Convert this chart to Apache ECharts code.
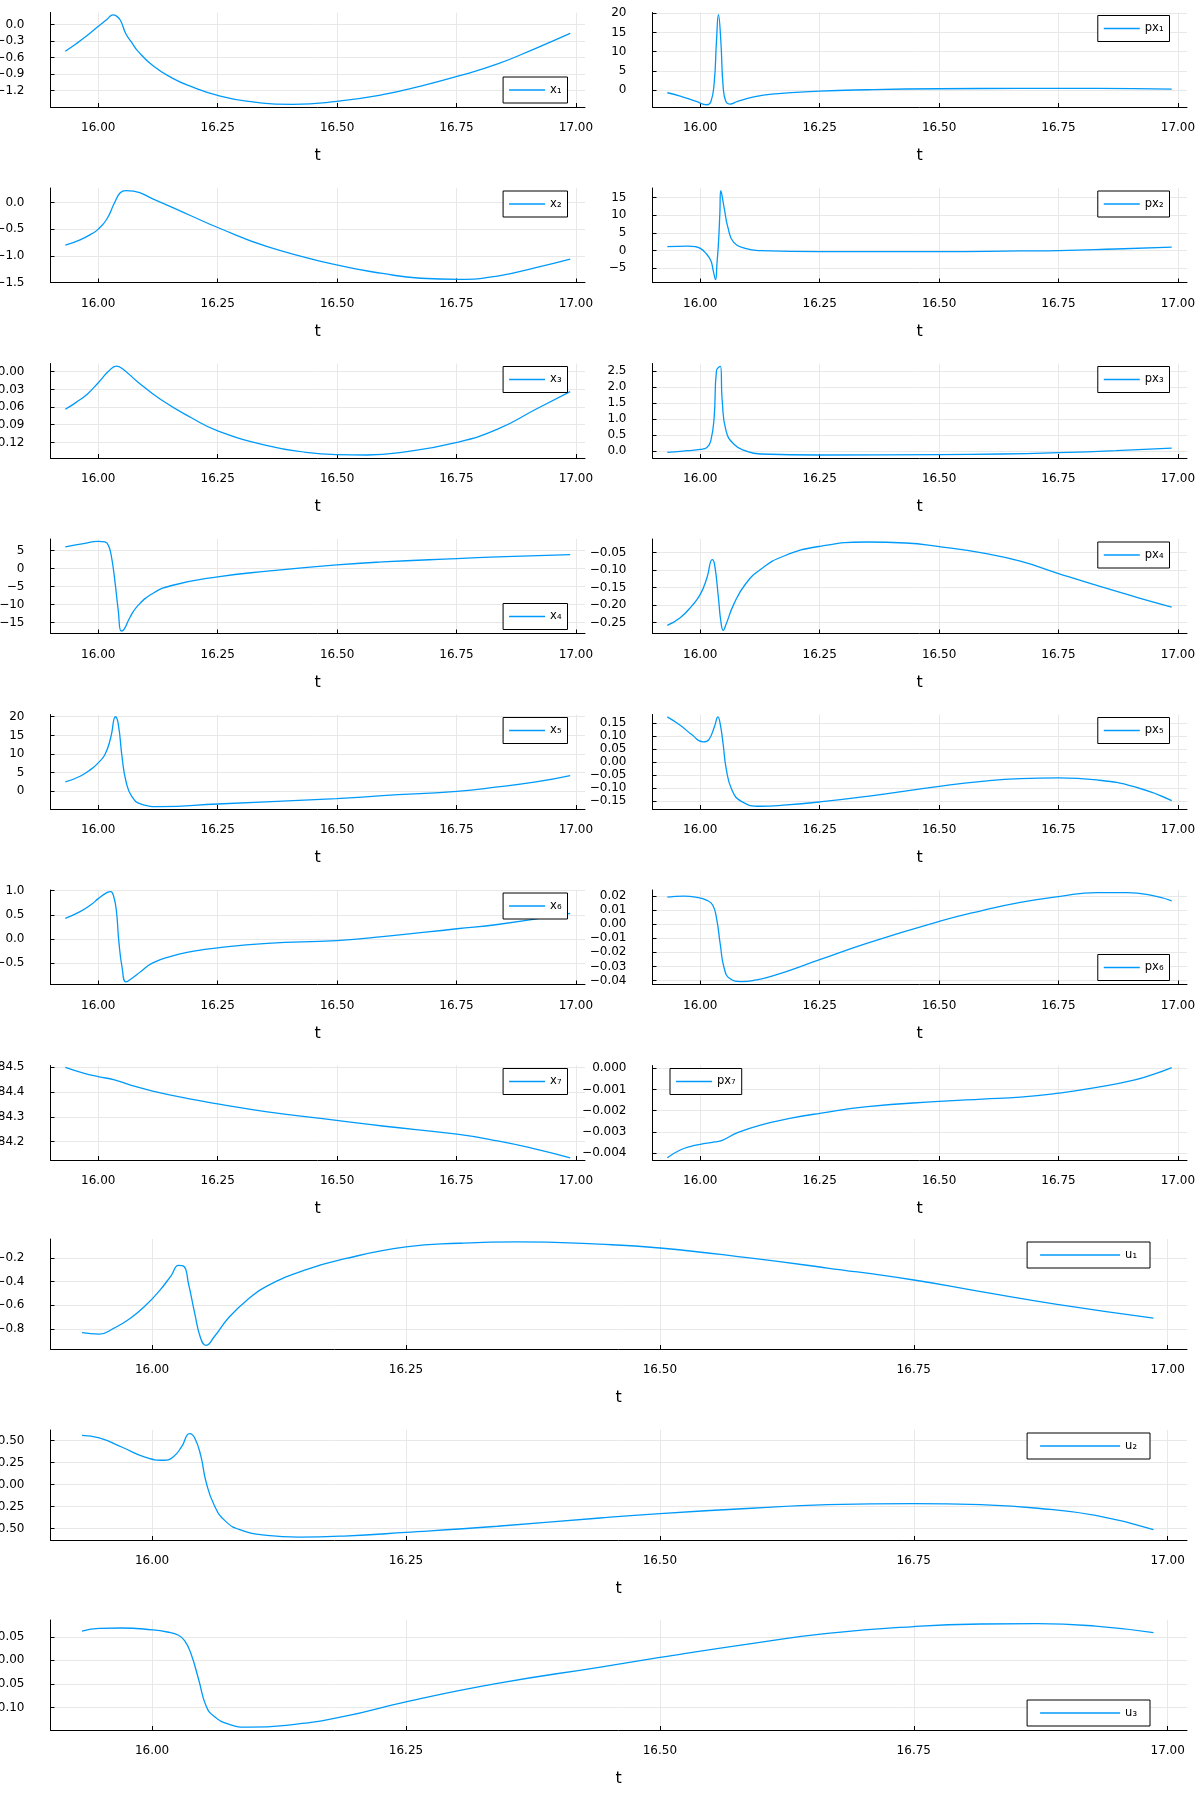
<!DOCTYPE html>
<html><head><meta charset="utf-8">
<script src="https://cdn.jsdelivr.net/npm/echarts@6/dist/echarts.min.js"></script>
<style>html,body{margin:0;padding:0;background:#fff}#c{width:1199px;height:1799px}</style>
</head><body><div id="c"></div>
<script>
// ---- data: [t, value] samples ----
const x1 = [[15.931,-0.488],[15.953,-0.356],[15.978,-0.193],[16.0,-0.035],[16.018,0.09],[16.031,0.175],[16.036,0.165],[16.046,0.08],[16.058,-0.175],[16.07,-0.326],[16.082,-0.476],[16.114,-0.748],[16.154,-0.971],[16.194,-1.128],[16.25,-1.29],[16.314,-1.399],[16.407,-1.453],[16.499,-1.399],[16.595,-1.278],[16.675,-1.122],[16.751,-0.947],[16.836,-0.718],[16.916,-0.434],[16.988,-0.163]];
const px1 = [[15.931,-0.69],[15.958,-1.56],[15.99,-2.86],[16.014,-3.81],[16.022,-3.12],[16.029,1.65],[16.034,12.9],[16.038,19.65],[16.043,12.9],[16.048,0.78],[16.054,-3.12],[16.062,-3.64],[16.078,-2.94],[16.11,-1.82],[16.15,-1.04],[16.25,-0.26],[16.35,0.09],[16.5,0.35],[16.67,0.43],[16.83,0.43],[16.987,0.26]];
const x2 = [[15.931,-0.80],[15.962,-0.70],[15.986,-0.59],[16.0,-0.50],[16.018,-0.31],[16.034,-0.006],[16.046,0.18],[16.058,0.22],[16.074,0.21],[16.114,0.068],[16.194,-0.25],[16.25,-0.47],[16.354,-0.83],[16.499,-1.17],[16.595,-1.33],[16.675,-1.42],[16.755,-1.44],[16.836,-1.38],[16.916,-1.22],[16.988,-1.06]];
const px2 = [[15.931,1.12],[15.974,1.30],[15.99,1.12],[16.0,0.65],[16.01,-0.47],[16.022,-2.79],[16.027,-5.6],[16.032,-8.19],[16.035,-3.5],[16.038,1.86],[16.041,10.5],[16.043,16.93],[16.05,12.09],[16.058,6.51],[16.07,2.33],[16.094,0.65],[16.126,0.0],[16.25,-0.28],[16.5,-0.28],[16.67,-0.09],[16.75,0.0],[16.87,0.47],[16.987,1.02]];
const x3 = [[15.931,-0.0637],[15.953,-0.0524],[15.978,-0.0372],[16.0,-0.0186],[16.022,0.0011],[16.038,0.0096],[16.05,0.0056],[16.082,-0.0169],[16.13,-0.0468],[16.194,-0.0777],[16.25,-0.1003],[16.354,-0.1256],[16.435,-0.1369],[16.499,-0.1408],[16.563,-0.1414],[16.635,-0.1369],[16.751,-0.12],[16.836,-0.0975],[16.916,-0.0637],[16.988,-0.0338]];
const px3 = [[15.931,-0.031],[15.974,0.021],[16.0,0.062],[16.014,0.124],[16.022,0.33],[16.029,1.05],[16.034,2.52],[16.042,2.65],[16.046,1.57],[16.054,0.64],[16.07,0.23],[16.094,0.021],[16.126,-0.083],[16.25,-0.114],[16.5,-0.103],[16.63,-0.083],[16.75,-0.041],[16.87,0.021],[16.987,0.103]];
const x4 = [[15.931,6.02],[15.969,6.94],[16.0,7.59],[16.014,7.41],[16.022,6.2],[16.028,2.96],[16.034,-2.59],[16.042,-11.85],[16.048,-17.4],[16.054,-16.94],[16.066,-13.7],[16.082,-10.46],[16.114,-6.94],[16.154,-4.72],[16.25,-2.31],[16.354,-0.74],[16.499,1.02],[16.595,1.85],[16.751,2.78],[16.836,3.24],[16.988,3.89]];
const px4 = [[15.931,-0.2576],[15.958,-0.2358],[15.982,-0.2026],[16.0,-0.1694],[16.014,-0.122],[16.025,-0.0699],[16.03,-0.0841],[16.038,-0.1789],[16.043,-0.2453],[16.048,-0.2718],[16.054,-0.2548],[16.07,-0.1979],[16.094,-0.141],[16.126,-0.0983],[16.174,-0.0604],[16.25,-0.032],[16.35,-0.0197],[16.43,-0.0225],[16.5,-0.0329],[16.59,-0.0509],[16.67,-0.0746],[16.75,-0.1097],[16.83,-0.1438],[16.91,-0.1761],[16.987,-0.2055]];
const x5 = [[15.931,2.51],[15.962,4.04],[15.986,6.01],[16.0,7.62],[16.014,9.87],[16.026,14.35],[16.036,20.0],[16.042,17.94],[16.05,8.97],[16.058,2.69],[16.07,-1.35],[16.09,-3.41],[16.13,-4.13],[16.25,-3.41],[16.499,-1.97],[16.595,-1.17],[16.751,0.0],[16.836,1.17],[16.916,2.51],[16.988,4.22]];
const px5 = [[15.931,0.174],[15.958,0.1416],[15.982,0.1056],[16.006,0.0773],[16.018,0.0863],[16.03,0.1378],[16.037,0.174],[16.042,0.144],[16.048,0.067],[16.054,-0.023],[16.066,-0.107],[16.086,-0.152],[16.126,-0.171],[16.174,-0.167],[16.25,-0.1545],[16.35,-0.1326],[16.5,-0.094],[16.59,-0.0747],[16.67,-0.0644],[16.75,-0.0618],[16.83,-0.0695],[16.91,-0.0966],[16.987,-0.1494]];
const x6 = [[15.931,0.427],[15.962,0.564],[15.986,0.716],[16.0,0.833],[16.018,0.956],[16.026,0.977],[16.032,0.888],[16.038,0.578],[16.043,-0.041],[16.05,-0.592],[16.058,-0.881],[16.07,-0.812],[16.09,-0.661],[16.114,-0.49],[16.154,-0.35],[16.194,-0.26],[16.25,-0.18],[16.354,-0.09],[16.499,-0.03],[16.595,0.05],[16.751,0.213],[16.836,0.30],[16.988,0.53]];
const px6 = [[15.931,0.0191],[15.966,0.0198],[15.99,0.0191],[16.014,0.0169],[16.026,0.0136],[16.034,0.0042],[16.042,-0.0146],[16.05,-0.0311],[16.062,-0.0386],[16.086,-0.0407],[16.11,-0.04],[16.15,-0.0369],[16.25,-0.0252],[16.35,-0.0134],[16.5,0.0019],[16.59,0.0096],[16.67,0.0155],[16.75,0.0195],[16.83,0.0224],[16.894,0.0224],[16.95,0.02],[16.987,0.0165]];
const x7 = [[15.931,184.499],[15.969,184.476],[16.0,184.462],[16.034,184.449],[16.066,184.429],[16.114,184.404],[16.194,184.371],[16.25,184.352],[16.354,184.32],[16.499,184.286],[16.595,184.263],[16.751,184.23],[16.836,184.203],[16.916,184.17],[16.988,184.135]];
const px7 = [[15.931,-0.00422],[15.958,-0.00386],[15.982,-0.00367],[16.0,-0.00359],[16.03,-0.00348],[16.046,-0.0034],[16.078,-0.00304],[16.126,-0.00268],[16.19,-0.00236],[16.25,-0.00213],[16.35,-0.00181],[16.5,-0.00157],[16.59,-0.00146],[16.67,-0.00137],[16.75,-0.00118],[16.83,-0.00091],[16.91,-0.00055],[16.95,-0.00028],[16.987,0.00003]];
const u1 = [[15.931,-0.831],[15.948,-0.843],[15.963,-0.791],[15.978,-0.714],[15.993,-0.607],[16.008,-0.47],[16.019,-0.347],[16.026,-0.264],[16.031,-0.27],[16.036,-0.424],[16.042,-0.669],[16.048,-0.883],[16.053,-0.938],[16.061,-0.868],[16.076,-0.699],[16.095,-0.546],[16.113,-0.439],[16.151,-0.301],[16.189,-0.209],[16.25,-0.108],[16.302,-0.077],[16.359,-0.065],[16.44,-0.085],[16.5,-0.117],[16.59,-0.203],[16.665,-0.286],[16.75,-0.387],[16.816,-0.485],[16.891,-0.592],[16.986,-0.708]];
const u2 = [[15.931,0.557],[15.948,0.529],[15.97,0.426],[15.993,0.311],[16.012,0.275],[16.021,0.316],[16.029,0.426],[16.037,0.578],[16.042,0.529],[16.048,0.324],[16.053,0.037],[16.061,-0.23],[16.072,-0.414],[16.087,-0.516],[16.113,-0.578],[16.144,-0.598],[16.189,-0.586],[16.25,-0.545],[16.34,-0.475],[16.441,-0.381],[16.5,-0.332],[16.59,-0.27],[16.665,-0.23],[16.75,-0.217],[16.816,-0.23],[16.872,-0.27],[16.929,-0.352],[16.986,-0.512]];
const u3 = [[15.931,0.0619],[15.948,0.068],[15.97,0.0688],[16.0,0.065],[16.015,0.0603],[16.026,0.0533],[16.032,0.0418],[16.038,0.0162],[16.046,-0.0418],[16.053,-0.0959],[16.061,-0.119],[16.076,-0.136],[16.095,-0.142],[16.132,-0.138],[16.189,-0.119],[16.25,-0.088],[16.34,-0.049],[16.44,-0.0147],[16.5,0.0062],[16.59,0.0356],[16.665,0.0572],[16.75,0.0719],[16.816,0.0773],[16.872,0.0781],[16.929,0.0727],[16.986,0.0588]];

// ---- tick labels ----
const tTicks = [16.0, 16.25, 16.5, 16.75, 17.0];
const x1Ticks = [-1.2, -0.9, -0.6, -0.3, 0.0];
const px1Ticks = [0, 5, 10, 15, 20];
const x2Ticks = [-1.5, -1.0, -0.5, 0.0];
const px2Ticks = [-5, 0, 5, 10, 15];
const x3Ticks = [-0.12, -0.09, -0.06, -0.03, 0.0];
const px3Ticks = [0.0, 0.5, 1.0, 1.5, 2.0, 2.5];
const x4Ticks = [-15, -10, -5, 0, 5];
const px4Ticks = [-0.25, -0.20, -0.15, -0.10, -0.05];
const x5Ticks = [0, 5, 10, 15, 20];
const px5Ticks = [-0.15, -0.10, -0.05, 0.0, 0.05, 0.10, 0.15];
const x6Ticks = [-0.5, 0.0, 0.5, 1.0];
const px6Ticks = [-0.04, -0.03, -0.02, -0.01, 0.0, 0.01, 0.02];
const x7Ticks = [184.2, 184.3, 184.4, 184.5];
const px7Ticks = [-0.004, -0.003, -0.002, -0.001, 0.0];
const u1Ticks = [-0.8, -0.6, -0.4, -0.2];
const u2Ticks = [-0.50, -0.25, 0.0, 0.25, 0.50];
const u3Ticks = [-0.10, -0.05, 0.0, 0.05];

const panels = [
  {name:'x₁', data:x1, col:'L', row:0, min:-1.502, max:0.217, ticks:x1Ticks, dec:1, leg:'br'},
  {name:'px₁', data:px1, col:'R', row:0, min:-4.4, max:20.2, ticks:px1Ticks, dec:0, leg:'tr'},
  {name:'x₂', data:x2, col:'L', row:1, min:-1.5, max:0.27, ticks:x2Ticks, dec:1, leg:'tr'},
  {name:'px₂', data:px2, col:'R', row:1, min:-9.0, max:17.7, ticks:px2Ticks, dec:0, leg:'tr'},
  {name:'x₃', data:x3, col:'L', row:2, min:-0.1465, max:0.014, ticks:x3Ticks, dec:2, leg:'tr'},
  {name:'px₃', data:px3, col:'R', row:2, min:-0.207, max:2.74, ticks:px3Ticks, dec:1, leg:'tr'},
  {name:'x₄', data:x4, col:'L', row:3, min:-18.1, max:8.24, ticks:x4Ticks, dec:0, leg:'br'},
  {name:'px₄', data:px4, col:'R', row:3, min:-0.281, max:-0.0111, ticks:px4Ticks, dec:2, leg:'tr'},
  {name:'x₅', data:x5, col:'L', row:4, min:-4.75, max:20.6, ticks:x5Ticks, dec:0, leg:'tr'},
  {name:'px₅', data:px5, col:'R', row:4, min:-0.1816, max:0.183, ticks:px5Ticks, dec:2, leg:'tr'},
  {name:'x₆', data:x6, col:'L', row:5, min:-0.936, max:1.011, ticks:x6Ticks, dec:1, leg:'tr'},
  {name:'px₆', data:px6, col:'R', row:5, min:-0.0428, max:0.0242, ticks:px6Ticks, dec:2, leg:'br'},
  {name:'x₇', data:x7, col:'L', row:6, min:184.126, max:184.507, ticks:x7Ticks, dec:1, leg:'tr'},
  {name:'px₇', data:px7, col:'R', row:6, min:-0.00433, max:0.000126, ticks:px7Ticks, dec:3, leg:'tl'},
  {name:'u₁', data:u1, col:'F', row:0, min:-0.969, max:-0.041, ticks:u1Ticks, dec:1, leg:'tr'},
  {name:'u₂', data:u2, col:'F', row:1, min:-0.631, max:0.619, ticks:u2Ticks, dec:2, leg:'tr'},
  {name:'u₃', data:u3, col:'F', row:2, min:-0.148, max:0.0858, ticks:u3Ticks, dec:2, leg:'br'}
];

const FONT = 'DejaVu Sans';
const W = 1199;
function rect(p) {
  if (p.col === 'F') return {left: 50.5, top: [1239, 1430, 1620][p.row], width: 1136.5, height: 110};
  return {left: p.col === 'L' ? 50.5 : 652.5, top: 12.5 + 175.5 * p.row, width: 534.5, height: 94.5};
}
const fmt = d => v => Number(v).toFixed(d).replace('-', '\u2212');

const grid = [], xAxis = [], yAxis = [], series = [], legend = [];
panels.forEach((p, i) => {
  const r = rect(p);
  grid.push({left: r.left, top: r.top, width: r.width, height: r.height, containLabel: false, outerBoundsMode: 'none'});
  const axLine = {show: true, onZero: false, lineStyle: {color: '#000', width: 1}};
  const split = {show: true, lineStyle: {color: '#e8e8e8', width: 1}};
  xAxis.push({
    type: 'value', gridIndex: i, min: 15.9, max: 17.019,
    axisLine: axLine,
    axisTick: {show: true, inside: true, length: 4, customValues: tTicks, lineStyle: {color: '#000'}},
    axisLabel: {customValues: tTicks, formatter: fmt(2), margin: 15, fontSize: 12, color: '#000', fontFamily: FONT},
    splitLine: split,
    name: 't', nameLocation: 'middle', nameGap: 41,
    nameTextStyle: {fontSize: 16, color: '#000', fontFamily: FONT}
  });
  yAxis.push({
    type: 'value', gridIndex: i, min: p.min, max: p.max,
    axisLine: axLine,
    axisTick: {show: true, inside: true, length: 4, customValues: p.ticks, lineStyle: {color: '#000'}},
    axisLabel: {customValues: p.ticks, formatter: fmt(p.dec), margin: 26, fontSize: 12, color: '#000', fontFamily: FONT},
    splitLine: split
  });
  series.push({
    name: p.name, type: 'line', xAxisIndex: i, yAxisIndex: i, data: p.data,
    symbol: 'none', showSymbol: false, smooth: 0.5,
    lineStyle: {color: '#009afa', width: 1.3}, itemStyle: {color: '#009afa'}, animation: false
  });
  const full = p.col === 'F';
  const boxH = 26;
  const lg = {
    data: [p.name], orient: 'vertical', selectedMode: false, icon: 'rect',
    itemWidth: full ? 80 : 36, itemHeight: 1.5, itemGap: 0,
    padding: full ? [6, 13, 6, 13] : [6, 6, 6, 6],
    borderColor: '#000', borderWidth: 1, backgroundColor: '#fff', borderRadius: 0,
    itemStyle: {color: '#009afa'},
    textStyle: {fontSize: 11.5, color: '#000', fontFamily: FONT, lineHeight: 14}
  };
  const gap = full ? 37 : 17.5;
  if (p.leg === 'tl') lg.left = r.left + gap; else lg.right = W - (r.left + r.width - gap);
  lg.top = p.leg === 'br' ? r.top + r.height - 4 - boxH : r.top + 3;
  legend.push(lg);
});

const chart = echarts.init(document.getElementById('c'), null, {renderer: 'canvas'});
chart.setOption({backgroundColor: '#fff', animation: false, grid, xAxis, yAxis, series, legend});
</script>
</body></html>
